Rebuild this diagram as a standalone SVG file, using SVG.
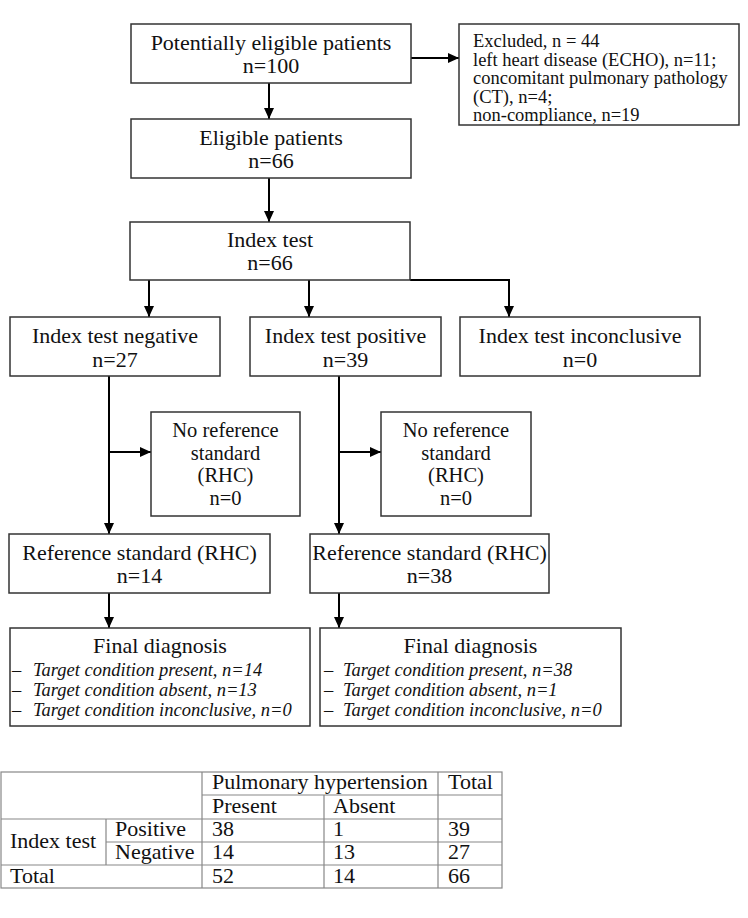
<svg xmlns="http://www.w3.org/2000/svg" width="748" height="918" viewBox="0 0 748 918">
<style>
text{font-family:"Liberation Serif","Times New Roman",serif;fill:#111;}
.m{font-size:22px;text-anchor:middle;}
.n{font-size:20.5px;text-anchor:middle;}
.s{font-size:18.5px;}
.i{font-size:18.5px;font-style:italic;}
.t{font-size:22px;}
.box{fill:#fff;stroke:#333;stroke-width:1.5;}
.c{fill:none;stroke:#000;stroke-width:2;}
.tl{stroke:#888;stroke-width:1.2;fill:none;}
</style>
<defs>
<marker id="ah" markerUnits="userSpaceOnUse" markerWidth="11" markerHeight="10" refX="11" refY="5" orient="auto">
<path d="M0,0 L11,5 L0,10 z" fill="#000"/>
</marker>
</defs>
<rect width="748" height="918" fill="#fff"/>
<g id="connectors">
<path class="c" d="M411,58 H459" marker-end="url(#ah)"/>
<path class="c" d="M269,83 V119" marker-end="url(#ah)"/>
<path class="c" d="M269,178 V222" marker-end="url(#ah)"/>
<path class="c" d="M149,280 V317" marker-end="url(#ah)"/>
<path class="c" d="M309,280 V317" marker-end="url(#ah)"/>
<path class="c" d="M410,280 H509 V317" marker-end="url(#ah)"/>
<path class="c" d="M109,376 V534" marker-end="url(#ah)"/>
<path class="c" d="M109,452 H151" marker-end="url(#ah)"/>
<path class="c" d="M339,376 V534" marker-end="url(#ah)"/>
<path class="c" d="M339,452 H381" marker-end="url(#ah)"/>
<path class="c" d="M109,593 V628" marker-end="url(#ah)"/>
<path class="c" d="M339,593 V628" marker-end="url(#ah)"/>
</g>
<g id="potentially">
<rect class="box" x="131" y="24" width="280" height="59"/>
<text class="m" x="271" y="50">Potentially eligible patients</text>
<text class="m" x="271" y="73">n=100</text>
</g>
<g id="excluded">
<rect class="box" x="459" y="24" width="280" height="101"/>
<text class="s" x="473" y="47">Excluded, n = 44</text>
<text class="s" x="473" y="65.5">left heart disease (ECHO), n=11;</text>
<text class="s" x="473" y="84">concomitant pulmonary pathology</text>
<text class="s" x="473" y="102.5">(CT), n=4;</text>
<text class="s" x="473" y="121">non-compliance, n=19</text>
</g>
<g id="eligible">
<rect class="box" x="131" y="119" width="280" height="59"/>
<text class="m" x="271" y="145">Eligible patients</text>
<text class="m" x="271" y="168">n=66</text>
</g>
<g id="index">
<rect class="box" x="130" y="222" width="280" height="58"/>
<text class="m" x="270" y="247">Index test</text>
<text class="m" x="270" y="270">n=66</text>
</g>
<g id="negative">
<rect class="box" x="10" y="317" width="210" height="59"/>
<text class="m" x="115" y="343">Index test negative</text>
<text class="m" x="115" y="367">n=27</text>
</g>
<g id="positive">
<rect class="box" x="250" y="317" width="191" height="59"/>
<text class="m" x="345.5" y="343">Index test positive</text>
<text class="m" x="345.5" y="367">n=39</text>
</g>
<g id="inconclusive">
<rect class="box" x="460" y="317" width="240" height="59"/>
<text class="m" x="580" y="343">Index test inconclusive</text>
<text class="m" x="580" y="367">n=0</text>
</g>
<g id="noref1">
<rect class="box" x="151" y="412" width="149" height="104"/>
<text class="n" x="225.5" y="437">No reference</text>
<text class="n" x="225.5" y="459.5">standard</text>
<text class="n" x="225.5" y="482">(RHC)</text>
<text class="n" x="225.5" y="504.5">n=0</text>
</g>
<g id="noref2">
<rect class="box" x="381" y="412" width="150" height="104"/>
<text class="n" x="456" y="437">No reference</text>
<text class="n" x="456" y="459.5">standard</text>
<text class="n" x="456" y="482">(RHC)</text>
<text class="n" x="456" y="504.5">n=0</text>
</g>
<g id="refstd1">
<rect class="box" x="9" y="534" width="261" height="59"/>
<text class="m" x="139.5" y="560">Reference standard (RHC)</text>
<text class="m" x="139.5" y="583">n=14</text>
</g>
<g id="refstd2">
<rect class="box" x="310" y="534" width="239" height="59"/>
<text class="m" x="429.5" y="560">Reference standard (RHC)</text>
<text class="m" x="429.5" y="583">n=38</text>
</g>
<g id="final1">
<rect class="box" x="10" y="628" width="300" height="98"/>
<text class="m" x="160" y="653">Final diagnosis</text>
<text class="s" x="12" y="676">–</text>
<text class="i" x="33" y="676">Target condition present, n=14</text>
<text class="s" x="12" y="696">–</text>
<text class="i" x="33" y="696">Target condition absent, n=13</text>
<text class="s" x="12" y="716">–</text>
<text class="i" x="33" y="716">Target condition inconclusive, n=0</text>
</g>
<g id="final2">
<rect class="box" x="320" y="628" width="301" height="98"/>
<text class="m" x="470.5" y="653">Final diagnosis</text>
<text class="s" x="324" y="676">–</text>
<text class="i" x="343" y="676">Target condition present, n=38</text>
<text class="s" x="324" y="696">–</text>
<text class="i" x="343" y="696">Target condition absent, n=1</text>
<text class="s" x="324" y="716">–</text>
<text class="i" x="343" y="716">Target condition inconclusive, n=0</text>
</g>
<g id="table">
<rect class="tl" x="1" y="772" width="501" height="116"/>
<path class="tl" d="M202,795 H502 M1,819 H502 M106,842 H502 M1,865 H502 M202,772 V888 M438,772 V888 M324,795 V888 M106,819 V865"/>
<text class="t" x="212" y="789">Pulmonary hypertension</text>
<text class="t" x="448" y="789">Total</text>
<text class="t" x="212" y="813">Present</text>
<text class="t" x="333" y="813">Absent</text>
<text class="t" x="10" y="848">Index test</text>
<text class="t" x="115" y="836">Positive</text>
<text class="t" x="115" y="859">Negative</text>
<text class="t" x="212" y="836">38</text>
<text class="t" x="333" y="836">1</text>
<text class="t" x="448" y="836">39</text>
<text class="t" x="212" y="859">14</text>
<text class="t" x="333" y="859">13</text>
<text class="t" x="448" y="859">27</text>
<text class="t" x="10" y="883">Total</text>
<text class="t" x="212" y="883">52</text>
<text class="t" x="333" y="883">14</text>
<text class="t" x="448" y="883">66</text>
</g>
</svg>
